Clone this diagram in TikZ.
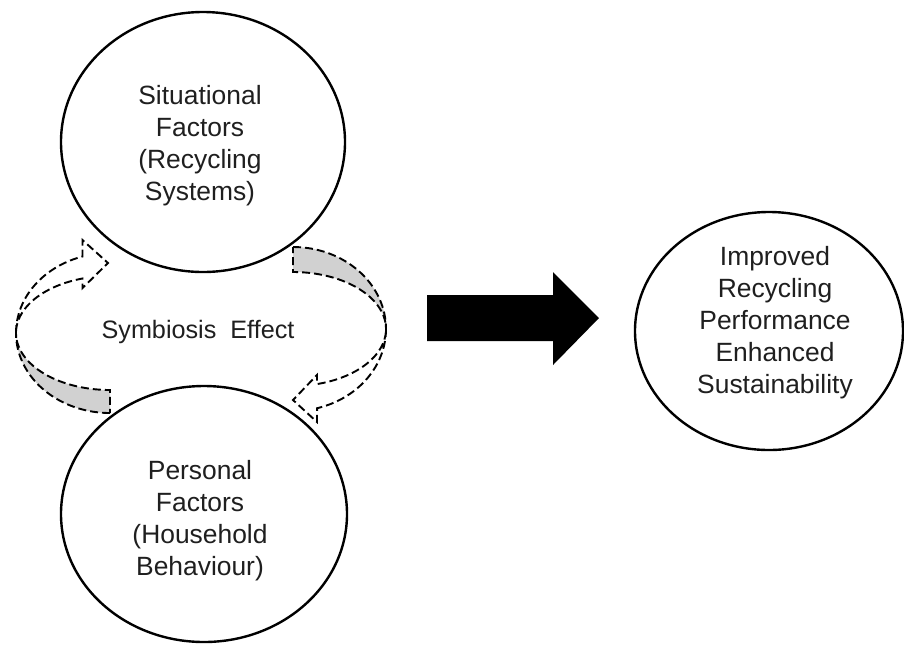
\documentclass[tikz,border=0pt]{standalone}
\usepackage{fontspec}
\setmainfont{Liberation Sans}
\usetikzlibrary{shapes.geometric}
\definecolor{ribbon}{gray}{0.82}
\definecolor{inktext}{gray}{0.12}
\begin{document}
\begin{tikzpicture}[x=0.5pt,y=-0.5pt,
  bubble/.style={shape=ellipse, draw=black, line width=1.2pt, inner sep=0pt, fill=none},
  caption/.style={align=center, text=inktext, inner sep=0pt,
    font=\fontsize{13.2}{16}\selectfont},
  ribbonline/.style={draw=black, line width=0.95pt, dash pattern=on 4pt off 2pt, line join=miter},
  ribbonband/.style={ribbonline, fill=ribbon},
  ribbonhollow/.style={ribbonline, fill=white},
  blockarrow/.style={fill=black, draw=none}
]
% canvas
\fill[white] (0,0) rectangle (904,650);
\useasboundingbox (0,0) rectangle (904,650);

% the three factor bubbles
\node[bubble, minimum width=142pt, minimum height=130pt] (situational) at (203,142) {};
\node[bubble, minimum width=143pt, minimum height=128pt] (personal) at (204,514) {};
\node[bubble, minimum width=134pt, minimum height=119pt] (outcome) at (769,331) {};

\node[caption] (situationalText) at (200,146) {Situational\\Factors\\(Recycling\\Systems)};
\node[caption] (personalText) at (200,521) {Personal\\Factors\\(Household\\Behaviour)};
\node[caption] (outcomeText) at (775,323) {Improved\\Recycling\\Performance\\Enhanced\\Sustainability};

\node[text=inktext, inner sep=0pt, font=\fontsize{12.6}{15}\selectfont] (symbiosis) at (198,332) {Symbiosis\ \ Effect};

% left curved ribbon arrow (rising towards the situational bubble)
\path[ribbonband]
  plot[domain=90:180, samples=40] ({110+94*cos(\x)},{333+80*sin(\x)})
  -- plot[domain=180:90, samples=40] ({110+94*cos(\x)},{333+57*sin(\x)})
  -- cycle;
\path[ribbonhollow]
  plot[domain=180:253, samples=40] ({110+94*cos(\x)},{333+80*sin(\x)})
  -- (82.5,240) -- (108,263) -- (82.5,288)
  -- plot[domain=253:180, samples=40] ({110+94*cos(\x)},{333+57*sin(\x)})
  -- cycle;

% right curved ribbon arrow (descending towards the personal bubble)
\path[ribbonband]
  plot[domain=270:360, samples=40] ({293+93*cos(\x)},{329+82*sin(\x)})
  -- plot[domain=360:270, samples=40] ({293+93*cos(\x)},{329+57*sin(\x)})
  -- cycle;
\path[ribbonhollow]
  plot[domain=0:75, samples=40] ({293+93*cos(\x)},{329+82*sin(\x)})
  -- (317,422) -- (293,400) -- (317,375)
  -- plot[domain=75:0, samples=40] ({293+93*cos(\x)},{329+57*sin(\x)})
  -- cycle;

% block arrow leading to the outcome
\coordinate (shaftTop) at (427,295);
\coordinate (shaftBottom) at (427,341);
\coordinate (tip) at (599,318);
\fill[blockarrow] (shaftTop) -- (553,295) -- (553,272) -- (tip)
  -- (553,365) -- (553,341) -- (shaftBottom) -- cycle;
\end{tikzpicture}
\end{document}
